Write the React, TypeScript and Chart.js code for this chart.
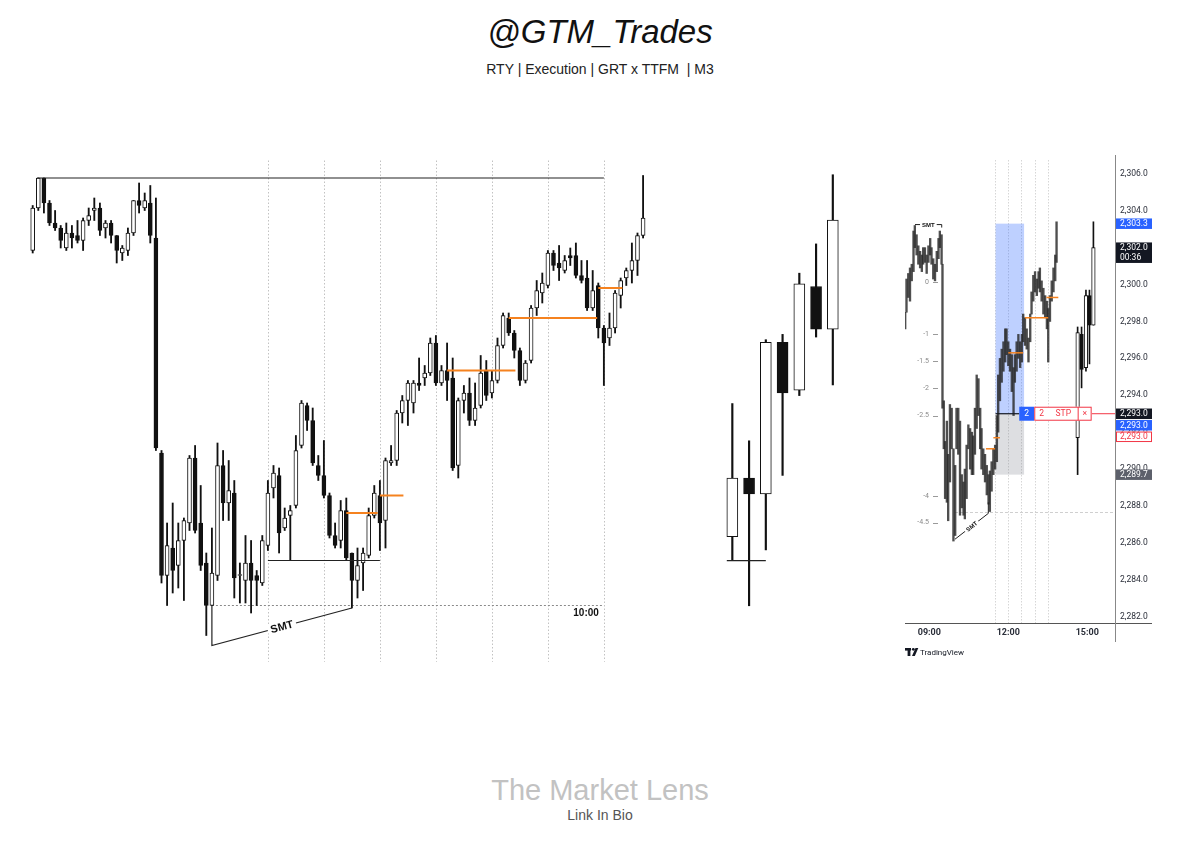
import React, { useEffect, useRef } from 'react';
import { Chart, registerables } from 'chart.js';

Chart.register(...registerables);

// ================= MAIN M3 EXECUTION CHART =================
const mainOpen = [
  2300.3, 2302.0, 2303.2, 2302.2, 2301.4, 2301.2, 2300.4, 2301.0, 2300.9, 2300.7,
  2301.5, 2301.9, 2302.0, 2301.2, 2301.4, 2300.9, 2300.2, 2300.3, 2301.0, 2302.3,
  2302.0, 2302.2, 2300.8, 2292.2, 2287.3, 2288.4, 2287.7, 2288.7, 2289.4, 2292.0,
  2289.4, 2287.8, 2286.1, 2287.3, 2291.7, 2290.2, 2290.6, 2287.3, 2287.1, 2287.8,
  2287.3, 2287.0, 2288.5, 2290.8, 2291.3, 2289.2, 2289.7, 2290.1, 2292.5, 2294.1,
  2293.5, 2291.7, 2291.3, 2290.5, 2288.9, 2288.7, 2289.9, 2288.2, 2287.1, 2287.8,
  2288.1, 2289.7, 2290.5, 2289.5, 2291.8, 2291.9, 2293.8, 2294.3, 2294.2, 2295.0,
  2295.2, 2295.4, 2296.6, 2295.0, 2295.5, 2295.2, 2291.7, 2294.3, 2294.6, 2293.5,
  2294.1, 2295.5, 2294.6, 2295.1, 2296.5, 2297.6, 2297.0, 2296.3, 2295.1, 2295.9,
  2298.0, 2298.6, 2298.9, 2300.2, 2299.8, 2299.5, 2300.1, 2300.1, 2299.3, 2299.2,
  2298.0, 2298.9, 2297.2, 2296.8, 2297.2, 2298.5, 2299.2, 2299.5, 2299.9, 2300.9,
];
const mainHigh = [
  2302.1, 2303.2, 2303.2, 2302.3, 2301.9, 2301.3, 2301.4, 2301.3, 2301.5, 2301.6,
  2302.0, 2302.4, 2302.2, 2301.5, 2301.5, 2300.9, 2300.5, 2301.2, 2302.3, 2303.0,
  2302.6, 2302.9, 2302.4, 2292.3, 2289.4, 2290.2, 2289.4, 2289.6, 2292.1, 2292.5,
  2290.9, 2288.2, 2289.2, 2292.6, 2292.3, 2291.9, 2291.1, 2287.8, 2288.9, 2288.7,
  2287.5, 2288.9, 2291.1, 2291.7, 2291.6, 2290.0, 2290.1, 2292.9, 2294.3, 2294.2,
  2294.0, 2292.1, 2292.7, 2290.6, 2289.4, 2290.3, 2290.4, 2288.2, 2288.4, 2288.4,
  2290.0, 2290.9, 2291.1, 2292.0, 2292.5, 2293.9, 2294.5, 2295.1, 2295.1, 2296.0,
  2295.7, 2296.8, 2296.9, 2295.7, 2296.6, 2296.0, 2294.4, 2294.9, 2295.2, 2295.0,
  2296.1, 2295.9, 2295.5, 2296.8, 2297.8, 2297.8, 2297.1, 2296.4, 2295.9, 2298.1,
  2299.1, 2299.4, 2300.3, 2300.3, 2300.5, 2300.1, 2300.4, 2300.6, 2299.9, 2299.9,
  2299.5, 2299.0, 2297.3, 2297.8, 2298.7, 2299.2, 2299.6, 2300.6, 2301.0, 2303.3,
];
const mainLow = [
  2300.2, 2301.9, 2301.8, 2301.3, 2301.1, 2300.4, 2300.3, 2300.4, 2300.6, 2300.3,
  2301.3, 2301.5, 2300.9, 2300.8, 2300.6, 2299.8, 2299.9, 2300.1, 2300.9, 2301.8,
  2301.9, 2300.6, 2292.3, 2287.0, 2286.1, 2286.6, 2286.8, 2286.3, 2289.1, 2289.0,
  2287.5, 2284.9, 2286.1, 2287.1, 2289.5, 2289.5, 2286.4, 2286.2, 2286.2, 2285.8,
  2286.1, 2286.9, 2288.3, 2290.4, 2288.2, 2289.1, 2287.9, 2290.0, 2292.4, 2293.1,
  2291.7, 2291.1, 2290.4, 2288.8, 2288.4, 2288.4, 2287.9, 2286.0, 2286.4, 2286.7,
  2288.0, 2289.6, 2288.3, 2288.4, 2291.7, 2291.7, 2293.4, 2293.3, 2293.8, 2294.7,
  2294.9, 2295.3, 2294.9, 2294.9, 2294.3, 2291.5, 2291.2, 2293.8, 2293.3, 2293.3,
  2294.0, 2294.3, 2294.4, 2295.0, 2296.4, 2296.9, 2296.0, 2294.9, 2295.0, 2295.8,
  2297.7, 2298.2, 2298.8, 2299.5, 2299.1, 2299.4, 2299.7, 2299.2, 2299.0, 2297.9,
  2297.9, 2296.8, 2294.9, 2296.5, 2297.0, 2298.0, 2298.9, 2299.0, 2299.3, 2300.8,
];
const mainClose = [
  2302.0, 2303.2, 2302.2, 2301.4, 2301.2, 2300.7, 2301.0, 2300.8, 2300.7, 2301.5,
  2301.7, 2302.0, 2301.1, 2301.4, 2300.9, 2300.3, 2300.4, 2301.0, 2302.3, 2302.1,
  2302.3, 2300.9, 2292.4, 2287.3, 2288.5, 2287.5, 2288.7, 2289.5, 2292.0, 2289.1,
  2287.7, 2286.1, 2287.4, 2291.7, 2290.2, 2290.7, 2287.2, 2287.3, 2287.8, 2287.1,
  2287.1, 2288.7, 2290.6, 2291.4, 2289.0, 2289.6, 2289.9, 2292.3, 2294.2, 2293.5,
  2291.8, 2291.3, 2290.5, 2288.9, 2288.5, 2289.9, 2288.0, 2287.1, 2287.7, 2288.2,
  2289.7, 2290.6, 2289.4, 2291.9, 2291.9, 2293.8, 2294.3, 2295.0, 2295.0, 2294.9,
  2295.4, 2296.6, 2295.0, 2295.5, 2295.1, 2291.6, 2294.3, 2294.6, 2293.5, 2294.0,
  2295.4, 2294.5, 2295.1, 2296.5, 2297.7, 2297.0, 2296.3, 2295.1, 2295.8, 2298.0,
  2298.7, 2299.0, 2300.2, 2299.7, 2299.6, 2299.9, 2300.0, 2299.3, 2299.1, 2298.0,
  2298.7, 2297.2, 2296.6, 2297.2, 2298.6, 2299.1, 2299.5, 2299.9, 2300.9, 2301.6,
];
const mainIndex = mainOpen.map((_, i) => i);

const highLineLevel = { from: 0.8, to: 102, price: 2303.2 };
const equalLowsLevel = { from: 42, to: 62, price: 2287.9 };
const sweepLowLevel = { from: 32, to: 102, price: 2286.1 };
const orangeFrom = [56, 62, 74, 85, 101];
const orangeTo = [61.6, 66.2, 86.2, 100.8, 105.3];
const orangePrice = [2289.8, 2290.5, 2295.5, 2297.6, 2298.8];
const sessionIdx = [42, 52, 62, 72, 82, 92, 102];
const sessionSpan = [2283.85, 2303.9];
const smtMain = { fromIdx: 32, fromPrice: 2286.1, bottomPrice: 2284.5, toIdx: 57, toPrice: 2286.0, label: 'SMT' };
const mainTimeLabel = { idx: 102, price: 2286.1, text: '10:00' };

// ================= ZOOMED CANDLES =================
const zoomOpen = [2290.1, 2292.3, 2291.7, 2297.4, 2295.6, 2299.5, 2297.9];
const zoomHigh = [2295.1, 2293.7, 2297.5, 2297.7, 2300.0, 2301.1, 2303.7];
const zoomLow = [2289.2, 2287.5, 2289.6, 2292.4, 2295.4, 2297.6, 2295.8];
const zoomClose = [2292.3, 2291.7, 2297.4, 2295.5, 2299.6, 2297.9, 2302.0];
const zoomIndex = zoomOpen.map((_, i) => i);
const zoomLowLevel = { from: -0.33, to: 2, price: 2289.2 };

// ================= TRADINGVIEW INSET (minutes from 09:00) =================
const tvTime = [
  -55, -52, -48, -44, -40, -36, -33, -29, -25, -21, -17, -14, -10, -6, -2, 2, 5, 9, 13, 17,
  21, 24, 28, 30, 33, 36, 40, 43, 47, 51, 55, 59, 62, 66, 70, 74, 78, 81, 85, 89,
  93, 97, 100, 104, 108, 112, 116, 119, 123, 127, 131, 135, 138, 142, 146, 150, 154, 157, 161, 165,
  169, 173, 176, 180, 184, 188, 192, 195, 199, 203, 207, 211, 214, 218, 222, 226, 230, 233, 237, 241,
  245, 249, 252, 256, 260, 264, 268, 271, 275, 279, 283, 287, 290,
];
const tvHigh = [
  2298.5, 2300.3, 2300.6, 2300.9, 2301.1, 2302.9, 2303.2, 2302.7, 2302.1, 2301.8,
  2301.6, 2302.0, 2302.0, 2301.6, 2302.1, 2302.5, 2302.0, 2301.4, 2301.1, 2301.8,
  2302.5, 2302.9, 2302.7, 2301.1, 2293.7, 2291.5, 2292.6, 2290.8, 2293.5, 2293.3,
  2291.1, 2290.2, 2293.3, 2293.3, 2292.6, 2289.7, 2289.3, 2290.0, 2291.3, 2292.4,
  2292.2, 2292.0, 2291.8, 2293.3, 2295.1, 2294.9, 2293.3, 2292.2, 2291.1, 2290.8,
  2290.2, 2289.7, 2289.9, 2290.4, 2291.1, 2291.3, 2292.9, 2295.1, 2296.0, 2296.5,
  2296.9, 2297.6, 2297.6, 2296.9, 2296.5, 2296.2, 2295.5, 2296.2, 2296.9, 2297.3,
  2296.9, 2297.3, 2298.4, 2298.2, 2297.6, 2297.1, 2298.4, 2299.6, 2300.5, 2300.7,
  2300.3, 2300.7, 2300.9, 2300.2, 2299.8, 2299.4, 2299.1, 2298.7, 2299.4, 2300.2,
  2300.9, 2301.6, 2303.4,
];
const tvLow = [
  2297.6, 2298.5, 2299.3, 2299.1, 2300.2, 2300.7, 2302.0, 2301.6, 2301.1, 2300.9,
  2300.7, 2301.1, 2301.2, 2300.6, 2301.2, 2301.6, 2301.1, 2300.3, 2300.2, 2300.7,
  2301.4, 2302.0, 2301.1, 2293.3, 2291.1, 2288.4, 2288.2, 2287.2, 2289.3, 2291.1,
  2286.1, 2286.4, 2291.1, 2290.8, 2287.5, 2287.9, 2287.5, 2287.3, 2288.4, 2291.1,
  2290.0, 2289.7, 2289.7, 2290.8, 2292.2, 2292.9, 2291.1, 2290.0, 2289.7, 2289.3,
  2288.6, 2288.1, 2287.7, 2288.8, 2289.7, 2290.0, 2290.4, 2292.0, 2293.7, 2294.7,
  2295.3, 2295.8, 2296.2, 2295.6, 2295.3, 2294.2, 2292.9, 2294.7, 2295.3, 2296.0,
  2295.5, 2295.8, 2296.9, 2296.7, 2296.5, 2295.8, 2296.9, 2298.4, 2299.1, 2299.6,
  2299.4, 2299.8, 2299.6, 2299.1, 2298.4, 2298.2, 2297.6, 2295.8, 2298.0, 2299.1,
  2299.6, 2300.2, 2301.2,
];
const tvCandleTime = [338, 347, 357, 365, 374];
const tvCandleOpen = [2291.7, 2297.3, 2295.5, 2299.4, 2297.8];
const tvCandleHigh = [2297.7, 2297.7, 2299.7, 2299.7, 2303.4];
const tvCandleLow = [2289.7, 2294.4, 2295.3, 2295.7, 2297.8];
const tvCandleClose = [2297.4, 2295.4, 2299.4, 2297.8, 2302.0];

const tvTickValues = [0, 180, 360];
const tvTickLabels = ['09:00', '12:00', '15:00'];
const tvSessionLines = [150, 180, 210, 240, 270];
const tvLong = { from: 151, to: 216, entry: 2293.0, target: 2303.3, stop: 2289.7 };
const tvOrangeFrom = [129, 146, 180, 218, 267];
const tvOrangeTo = [150, 161, 214, 271, 294];
const tvOrangePrice = [2291.1, 2291.7, 2296.3, 2298.2, 2299.3];
const tvDashedLevel = { from: 58.5, price: 2287.7 };
const tvOscLabels = ['0', '-1', '-1.5', '-2', '-2.5', '-4', '-4.5'];
const tvOscPrices = [2300.15, 2297.3, 2295.85, 2294.4, 2292.9, 2288.55, 2287.1];
const tvSmtTop = { from: -32.6, to: 28.3, price: 2303.25, text: 'SMT' };
const tvSmtBottom = { t1: 58.5, p1: 2286.2, t2: 134.5, p2: 2287.6, p3: 2288.2, text: 'SMT' };
const tvOrder = { from: 205, to: 370, price: 2293.0, qty: '2', type: 'STP' };
const tvTagText = ['2,303.3', '2,302.0', '2,293.0', '2,293.0', '2,293.0', '2,289.7'];
const tvTagPrice = [2303.3, 2302.0, 2293.0, 2293.0, 2293.0, 2289.7];
const tvTagBg = ['#2962ff', '#131722', '#131722', '#2962ff', '#ffffff', '#5d606b'];
const tvTagFg = ['#ffffff', '#ffffff', '#ffffff', '#ffffff', '#f23645', '#ffffff'];
const tvTagSub = ['', '00:36', '', '', '', ''];
const tvTagStack = [0, 0, 0, 1, 2, 0];

const ORANGE = '#f5821f';
const INK = '#111111';

function candleSets(xs: number[], o: number[], h: number[], l: number[], c: number[], bodyW: number, wickW: number, xAxisID = 'x') {
  const up = c.map((v, i) => v >= o[i]);
  return [
    {
      type: 'bar', xAxisID, yAxisID: 'y',
      data: xs.map((x, i) => ({ x, y: [o[i], c[i]] })),
      backgroundColor: up.map((u) => (u ? '#ffffff' : INK)),
      borderColor: INK, borderWidth: 1, borderSkipped: false,
      barThickness: bodyW, grouped: false, order: 0, minBarLength: 1,
    },
    {
      type: 'bar', xAxisID, yAxisID: 'y',
      data: xs.map((x, i) => ({ x, y: [l[i], h[i]] })),
      backgroundColor: INK, borderWidth: 0,
      barThickness: wickW, grouped: false, order: 1,
    },
  ];
}

function hLine(ctx: any, chart: any, from: number, to: number, price: number, color: string, w: number, dash: number[] = []) {
  const xs = chart.scales.x, ys = chart.scales.y;
  const y = ys.getPixelForValue(price);
  ctx.save();
  ctx.strokeStyle = color; ctx.lineWidth = w; ctx.setLineDash(dash);
  ctx.beginPath(); ctx.moveTo(xs.getPixelForValue(from), y); ctx.lineTo(xs.getPixelForValue(to), y); ctx.stroke();
  ctx.restore();
}

function tiltedText(ctx: any, x1: number, y1: number, x2: number, y2: number, text: string, font: string, pad: number) {
  const mx = (x1 + x2) / 2, my = (y1 + y2) / 2;
  const ang = Math.atan2(y2 - y1, x2 - x1);
  ctx.save();
  ctx.translate(mx, my); ctx.rotate(ang);
  ctx.font = font;
  const w = ctx.measureText(text).width;
  ctx.fillStyle = '#ffffff';
  ctx.fillRect(-w / 2 - pad, -pad * 2, w + pad * 2, pad * 4);
  ctx.fillStyle = INK; ctx.textAlign = 'center'; ctx.textBaseline = 'middle';
  ctx.fillText(text, 0, 0.5);
  ctx.restore();
}

const mainPlugin = {
  id: 'mainMarks',
  beforeDatasetsDraw(chart: any) {
    const { ctx } = chart;
    const xs = chart.scales.x, ys = chart.scales.y;
    ctx.save();
    ctx.strokeStyle = '#c2c2c2'; ctx.lineWidth = 1; ctx.setLineDash([1.5, 2]);
    for (const i of sessionIdx) {
      const x = Math.round(xs.getPixelForValue(i)) + 0.5;
      ctx.beginPath(); ctx.moveTo(x, ys.getPixelForValue(sessionSpan[1])); ctx.lineTo(x, ys.getPixelForValue(sessionSpan[0])); ctx.stroke();
    }
    ctx.restore();
    hLine(ctx, chart, sweepLowLevel.from, sweepLowLevel.to, sweepLowLevel.price, '#8a8a8a', 1, [2, 2]);
  },
  afterDatasetsDraw(chart: any) {
    const { ctx } = chart;
    const xs = chart.scales.x, ys = chart.scales.y;
    hLine(ctx, chart, highLineLevel.from, highLineLevel.to, highLineLevel.price, '#222222', 1.2);
    hLine(ctx, chart, equalLowsLevel.from, equalLowsLevel.to, equalLowsLevel.price, '#222222', 1.2);
    orangePrice.forEach((p, k) => hLine(ctx, chart, orangeFrom[k], orangeTo[k], p, ORANGE, 2));
    const xa = xs.getPixelForValue(smtMain.fromIdx), xb = xs.getPixelForValue(smtMain.toIdx);
    const ya = ys.getPixelForValue(smtMain.fromPrice), yBot = ys.getPixelForValue(smtMain.bottomPrice), yb = ys.getPixelForValue(smtMain.toPrice);
    ctx.save();
    ctx.strokeStyle = '#222222'; ctx.lineWidth = 1.2;
    ctx.beginPath(); ctx.moveTo(xa, ya); ctx.lineTo(xa, yBot); ctx.lineTo(xb, yb); ctx.stroke();
    ctx.restore();
    tiltedText(ctx, xa, yBot, xb, yb, smtMain.label, 'bold 11px "Liberation Sans", Arial, sans-serif', 3);
    ctx.save();
    ctx.font = 'bold 10px "Liberation Sans", Arial, sans-serif';
    ctx.fillStyle = INK; ctx.textAlign = 'right'; ctx.textBaseline = 'middle';
    ctx.fillText(mainTimeLabel.text, xs.getPixelForValue(mainTimeLabel.idx) - 5, ys.getPixelForValue(mainTimeLabel.price) + 7.5);
    ctx.restore();
  },
};

const zoomPlugin = {
  id: 'zoomMarks',
  afterDatasetsDraw(chart: any) {
    hLine(chart.ctx, chart, zoomLowLevel.from, zoomLowLevel.to, zoomLowLevel.price, '#222222', 1.2);
  },
};

const tvPlugin = {
  id: 'tvMarks',
  beforeDatasetsDraw(chart: any) {
    const { ctx, chartArea: a } = chart;
    const xs = chart.scales.x, ys = chart.scales.y;
    ctx.save();
    ctx.strokeStyle = '#d6d6d6'; ctx.lineWidth = 1; ctx.setLineDash([1.5, 1.5]);
    for (const t of tvSessionLines) {
      const x = Math.round(xs.getPixelForValue(t)) + 0.5;
      ctx.beginPath(); ctx.moveTo(x, a.top + 5); ctx.lineTo(x, a.bottom); ctx.stroke();
    }
    ctx.setLineDash([]);
    const x1 = xs.getPixelForValue(tvLong.from), x2 = xs.getPixelForValue(tvLong.to);
    const yT = ys.getPixelForValue(tvLong.target), yE = ys.getPixelForValue(tvLong.entry), yS = ys.getPixelForValue(tvLong.stop);
    ctx.fillStyle = 'rgba(41, 98, 255, 0.3)';
    ctx.fillRect(x1, yT, x2 - x1, yE - yT);
    ctx.fillStyle = 'rgba(120, 123, 134, 0.25)';
    ctx.fillRect(x1, yE, x2 - x1, yS - yE);
    const yd = Math.round(ys.getPixelForValue(tvDashedLevel.price)) + 0.5;
    ctx.strokeStyle = '#cfcfcf'; ctx.setLineDash([3, 2]);
    ctx.beginPath(); ctx.moveTo(xs.getPixelForValue(tvDashedLevel.from), yd); ctx.lineTo(a.right, yd); ctx.stroke();
    ctx.setLineDash([]);
    ctx.font = '7px Roboto, sans-serif'; ctx.fillStyle = '#8a8a8a'; ctx.textAlign = 'right'; ctx.textBaseline = 'middle';
    ctx.strokeStyle = '#9a9a9a';
    tvOscLabels.forEach((lab, k) => {
      const y = ys.getPixelForValue(tvOscPrices[k]);
      ctx.fillText(lab, a.left + 24, y);
      ctx.beginPath(); ctx.moveTo(a.left + 28, Math.round(y) + 0.5); ctx.lineTo(a.left + 33, Math.round(y) + 0.5); ctx.stroke();
    });
    ctx.restore();
  },
  afterDatasetsDraw(chart: any) {
    const { ctx, chartArea: a } = chart;
    const xs = chart.scales.x, ys = chart.scales.y;
    tvOrangePrice.forEach((p, k) => hLine(ctx, chart, tvOrangeFrom[k], tvOrangeTo[k], p, ORANGE, 1.5));
    hLine(ctx, chart, tvLong.from, tvOrder.from, tvOrder.price, '#131722', 1.2);
    const yo = ys.getPixelForValue(tvOrder.price);
    const bx = xs.getPixelForValue(tvOrder.from), bx2 = xs.getPixelForValue(tvOrder.to);
    ctx.save();
    ctx.strokeStyle = '#f23645'; ctx.lineWidth = 1;
    ctx.beginPath(); ctx.moveTo(bx2, yo); ctx.lineTo(a.right, yo); ctx.stroke();
    ctx.fillStyle = '#2962ff';
    ctx.fillRect(bx, yo - 7, 15, 14);
    ctx.fillStyle = '#ffffff';
    ctx.fillRect(bx + 15, yo - 7, bx2 - bx - 15, 14);
    ctx.strokeRect(bx + 15.5, yo - 6.5, bx2 - bx - 16, 13);
    ctx.beginPath(); ctx.moveTo(bx2 - 13.5, yo - 6.5); ctx.lineTo(bx2 - 13.5, yo + 6.5); ctx.stroke();
    ctx.font = '8.5px Roboto, sans-serif'; ctx.textAlign = 'center'; ctx.textBaseline = 'middle';
    ctx.fillStyle = '#ffffff'; ctx.fillText(tvOrder.qty, bx + 7.5, yo + 0.5);
    ctx.fillStyle = '#f23645';
    ctx.fillText(tvOrder.qty, bx + 22.5, yo + 0.5);
    ctx.fillText(tvOrder.type, bx + 44, yo + 0.5);
    ctx.fillText('×', bx2 - 7, yo + 0.5);
    ctx.restore();
    const tf = 'bold 6px "Liberation Sans", Arial, sans-serif';
    const yt = ys.getPixelForValue(tvSmtTop.price);
    const xt1 = xs.getPixelForValue(tvSmtTop.from), xt2 = xs.getPixelForValue(tvSmtTop.to);
    ctx.save();
    ctx.strokeStyle = '#222222'; ctx.lineWidth = 1;
    ctx.beginPath(); ctx.moveTo(xt1, yt); ctx.lineTo(xt2, yt); ctx.lineTo(xt2, yt + 3); ctx.stroke();
    ctx.restore();
    tiltedText(ctx, xt1, yt, xt2, yt, tvSmtTop.text, tf, 2);
    const sx1 = xs.getPixelForValue(tvSmtBottom.t1), sy1 = ys.getPixelForValue(tvSmtBottom.p1);
    const sx2 = xs.getPixelForValue(tvSmtBottom.t2), sy2 = ys.getPixelForValue(tvSmtBottom.p2);
    ctx.save();
    ctx.strokeStyle = '#222222'; ctx.lineWidth = 1;
    ctx.beginPath(); ctx.moveTo(sx1, sy1); ctx.lineTo(sx2, sy2); ctx.lineTo(sx2, ys.getPixelForValue(tvSmtBottom.p3)); ctx.stroke();
    ctx.restore();
    tiltedText(ctx, sx1, sy1, sx2, sy2, tvSmtBottom.text, tf, 2);
  },
  afterDraw(chart: any) {
    const { ctx, chartArea: a } = chart;
    const ys = chart.scales.y;
    ctx.save();
    ctx.strokeStyle = '#555555'; ctx.lineWidth = 1;
    ctx.beginPath(); ctx.moveTo(a.right, a.bottom + 0.5); ctx.lineTo(a.right + 37, a.bottom + 0.5); ctx.stroke();
    ctx.strokeStyle = '#888888';
    ctx.beginPath(); ctx.moveTo(a.right + 0.5, a.bottom); ctx.lineTo(a.right + 0.5, a.bottom + 19); ctx.stroke();
    ctx.font = '8.5px Roboto, sans-serif'; ctx.textBaseline = 'middle'; ctx.textAlign = 'left';
    tvTagText.forEach((txt, k) => {
      const yc = ys.getPixelForValue(tvTagPrice[k]) + tvTagStack[k] * 11.5;
      const h = tvTagSub[k] ? 20.5 : 10.5;
      const top = yc - 5.2;
      ctx.fillStyle = tvTagBg[k];
      ctx.fillRect(a.right + 1, top, 36, h);
      if (tvTagBg[k] === '#ffffff') {
        ctx.strokeStyle = '#f23645';
        ctx.strokeRect(a.right + 1.5, top + 0.5, 35, h - 1);
      }
      ctx.fillStyle = tvTagFg[k];
      ctx.fillText(txt, a.right + 5, yc + 0.3);
      if (tvTagSub[k]) ctx.fillText(tvTagSub[k], a.right + 5, yc + 10);
    });
    const lx = a.left, ly = a.bottom + 29;
    ctx.fillStyle = '#131722';
    ctx.fillRect(lx, ly - 4, 6, 2.6);
    ctx.fillRect(lx + 2.6, ly - 4, 2.8, 8);
    ctx.beginPath(); ctx.arc(lx + 8.3, ly - 2.7, 1.4, 0, Math.PI * 2); ctx.fill();
    ctx.beginPath(); ctx.moveTo(lx + 7, ly + 4); ctx.lineTo(lx + 10.5, ly - 4); ctx.lineTo(lx + 13.3, ly - 4); ctx.lineTo(lx + 9.8, ly + 4); ctx.closePath(); ctx.fill();
    ctx.font = '8px Roboto, sans-serif'; ctx.textAlign = 'left'; ctx.textBaseline = 'middle';
    ctx.fillText('TradingView', lx + 15, ly + 0.5);
    ctx.restore();
  },
};

const fmtPrice = (v: number) => v.toLocaleString('en-US', { minimumFractionDigits: 1, maximumFractionDigits: 1 });

export default function App() {
  const mainRef = useRef<HTMLCanvasElement>(null);
  const zoomRef = useRef<HTMLCanvasElement>(null);
  const tvRef = useRef<HTMLCanvasElement>(null);

  useEffect(() => {
    const base: any = {
      responsive: false, animation: false, events: [],
      layout: { padding: 0 },
      plugins: { legend: { display: false }, tooltip: { enabled: false }, title: { display: false } },
    };
    const main = new Chart(mainRef.current as HTMLCanvasElement, {
      type: 'bar',
      data: { datasets: candleSets(mainIndex, mainOpen, mainHigh, mainLow, mainClose, 4, 1.2) as any },
      options: {
        ...base,
        scales: {
          x: { type: 'linear', min: -5.84, max: 112.02, display: false, offset: false },
          y: { type: 'linear', min: 2283.12, max: 2304.32, display: false, beginAtZero: false },
        },
      },
      plugins: [mainPlugin],
    } as any);

    const zoom = new Chart(zoomRef.current as HTMLCanvasElement, {
      type: 'bar',
      data: { datasets: candleSets(zoomIndex, zoomOpen, zoomHigh, zoomLow, zoomClose, 11, 1.5) as any },
      options: {
        ...base,
        scales: {
          x: { type: 'linear', min: -1.93, max: 8.22, display: false, offset: false },
          y: { type: 'linear', min: 2284.71, max: 2304.63, display: false, beginAtZero: false },
        },
      },
      plugins: [zoomPlugin],
    } as any);

    const tvSets: any[] = [
      {
        type: 'bar', xAxisID: 'x', yAxisID: 'y',
        data: tvTime.map((t, i) => ({ x: t, y: [tvLow[i], tvHigh[i]] })),
        backgroundColor: 'rgba(40, 40, 40, 0.82)', borderWidth: 0, barThickness: 1.7, grouped: false, order: 2,
      },
      ...candleSets(tvCandleTime, tvCandleOpen, tvCandleHigh, tvCandleLow, tvCandleClose, 3.6, 1, 'x2'),
    ];
    const tv = new Chart(tvRef.current as HTMLCanvasElement, {
      type: 'bar',
      data: { datasets: tvSets },
      options: {
        ...base,
        scales: {
          x: {
            type: 'linear', min: -55.4, max: 423.2, position: 'bottom', offset: false,
            grid: { display: false, drawTicks: false },
            border: { display: true, color: '#555555', width: 1 },
            ticks: {
              autoSkip: false, maxRotation: 0, padding: 4, color: '#2a2e39',
              font: { family: 'Roboto', size: 9, weight: 'bold' },
              callback: (v: any) => { const k = tvTickValues.indexOf(Number(v)); return k >= 0 ? tvTickLabels[k] : ''; },
            },
            afterBuildTicks: (s: any) => { s.ticks = tvTickValues.map((v) => ({ value: v })); },
            afterFit: (s: any) => { s.height = 42; s.paddingLeft = 0; s.paddingRight = 0; },
          },
          x2: { type: 'linear', min: -55.4, max: 423.2, display: false, offset: false },
          y: {
            type: 'linear', position: 'right', min: 2281.66, max: 2307.02, beginAtZero: false,
            grid: { display: false, drawTicks: false },
            border: { display: true, color: '#888888', width: 1 },
            ticks: {
              stepSize: 2, includeBounds: false, padding: 5, color: '#2a2e39',
              font: { family: 'Roboto', size: 8.5 },
              callback: (v: any) => fmtPrice(Number(v)),
            },
            afterFit: (s: any) => { s.width = 42; s.paddingTop = 0; s.paddingBottom = 0; },
          },
        },
      },
      plugins: [tvPlugin],
    } as any);

    return () => { main.destroy(); zoom.destroy(); tv.destroy(); };
  }, []);

  const sans = '"Liberation Sans", Arial, Helvetica, sans-serif';
  return (
    <div style={{ position: 'fixed', left: 0, top: 0, width: 1200, height: 844, background: '#ffffff', overflow: 'hidden' }}>
      <div style={{ position: 'absolute', left: 0, top: 12, width: 1200, height: 40, lineHeight: '40px', textAlign: 'center', fontFamily: sans, fontStyle: 'italic', fontSize: 33, color: '#111' }}>@GTM_Trades</div>
      <div style={{ position: 'absolute', left: 0, top: 59, width: 1200, height: 20, lineHeight: '20px', textAlign: 'center', fontFamily: sans, fontSize: 14, color: '#222', whiteSpace: 'pre' }}>{'RTY | Execution | GRT x TTFM  | M3'}</div>
      <canvas ref={mainRef} width={660} height={530} style={{ position: 'absolute', left: 0, top: 150, width: 660, height: 530 }} />
      <canvas ref={zoomRef} width={170} height={530} style={{ position: 'absolute', left: 700, top: 150, width: 170, height: 530 }} />
      <canvas ref={tvRef} width={252} height={510} style={{ position: 'absolute', left: 905, top: 155, width: 252, height: 510 }} />
      <div style={{ position: 'absolute', left: 0, top: 773, width: 1200, height: 34, lineHeight: '34px', textAlign: 'center', fontFamily: sans, fontSize: 29, color: '#c2c2c2' }}>The Market Lens</div>
      <div style={{ position: 'absolute', left: 0, top: 805, width: 1200, height: 20, lineHeight: '20px', textAlign: 'center', fontFamily: sans, fontSize: 14, color: '#555' }}>Link In Bio</div>
    </div>
  );
}
